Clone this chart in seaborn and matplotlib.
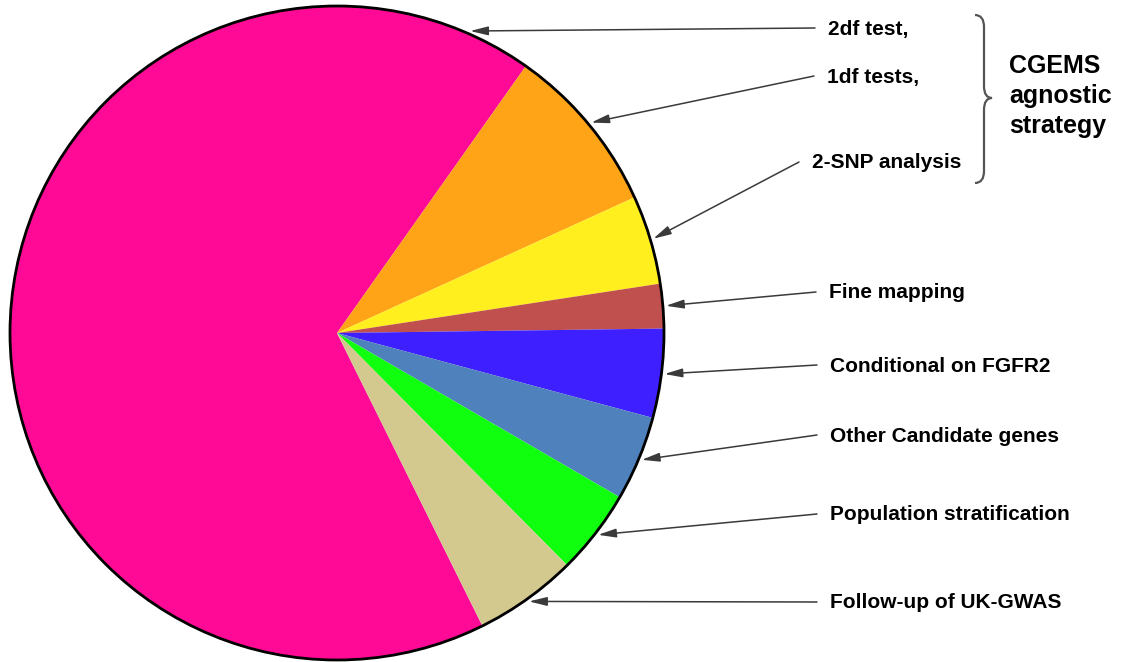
import numpy as np
import matplotlib
matplotlib.use("Agg")
import matplotlib.pyplot as plt
from matplotlib.path import Path
from matplotlib.patches import PathPatch, Circle
import seaborn as sns

# slices, clockwise from the big pink one
labels = ["2df test,", "1df tests,", "2-SNP analysis", "Fine mapping",
          "Conditional on FGFR2", "Other Candidate genes",
          "Population stratification", "Follow-up of UK-GWAS"]
shares = [67.2, 8.4, 4.4, 2.2, 4.4, 4.2, 4.2, 5.1]
colors = ["#FF0A96", "#FFA317", "#FFEF1F", "#C0504D",
          "#3E1FFF", "#4F81BD", "#0FFF0F", "#D3C98F"]
group_text = "CGEMS\nagnostic\nstrategy"

W, H = 1133, 662
CX, CY, R = 337, H - 333, 327

# label layout (pixel rows from the top)
label_x = [828, 827, 812, 829, 830, 830, 830, 830]
label_y = [29, 77, 163, 293, 366, 436, 515, 603]

sns.set_theme(style="white")
plt.rcParams["font.family"] = ["Liberation Sans", "DejaVu Sans"]

fig = plt.figure(figsize=(W / 100, H / 100), dpi=100)
ax = fig.add_axes([0, 0, 1, 1])

wedges, _ = ax.pie(shares, colors=colors, startangle=-63.6, counterclock=False,
                   center=(CX, CY), radius=R, frame=True,
                   wedgeprops=dict(linewidth=0))
ax.add_patch(Circle((CX, CY), R, fill=False, edgecolor="black", lw=2, zorder=3))

ax.set_xlim(0, W)
ax.set_ylim(0, H)
ax.set_aspect("equal")
ax.axis("off")

for i, (w, lab) in enumerate(zip(wedges, labels)):
    if i == 0:
        ang = w.theta1 + 11.5
    else:
        ang = 0.5 * (w.theta1 + w.theta2)
    a = np.deg2rad(ang)
    tip = (CX + (R + 3) * np.cos(a), CY + (R + 3) * np.sin(a))
    ty = H - label_y[i]
    ax.annotate("", xy=tip, xytext=(label_x[i] - 13, ty + 1),
                arrowprops=dict(arrowstyle="-|>,head_length=0.9,head_width=0.22",
                                color="#3a3a3a", lw=1.1, shrinkA=0, shrinkB=0,
                                mutation_scale=12))
    ax.text(label_x[i], ty, lab, ha="left", va="center",
            fontsize=15, fontweight="bold", color="black")

# curly brace grouping the first three labels
bx0, bx1, bm = 975, 992, 98
top, bot = H - 15, H - 183
verts = [(bx0, top), (bx1 - 8, top), (bx1 - 8, top - 12),
         (bx1 - 8, H - bm + 12),
         (bx1 - 8, H - bm), (bx1, H - bm),
         (bx1 - 8, H - bm), (bx1 - 8, H - bm - 12),
         (bx1 - 8, bot + 12),
         (bx1 - 8, bot), (bx0, bot)]
codes = [Path.MOVETO, Path.CURVE3, Path.CURVE3, Path.LINETO,
         Path.CURVE3, Path.CURVE3, Path.CURVE3, Path.CURVE3,
         Path.LINETO, Path.CURVE3, Path.CURVE3]
ax.add_patch(PathPatch(Path(verts, codes), fill=False, edgecolor="#555555", lw=1.6))

ax.text(1009, H - 96, group_text, ha="left", va="center", fontsize=18,
        fontweight="bold", color="black", linespacing=1.3, multialignment="left")

fig.savefig("out.png", dpi=100)
